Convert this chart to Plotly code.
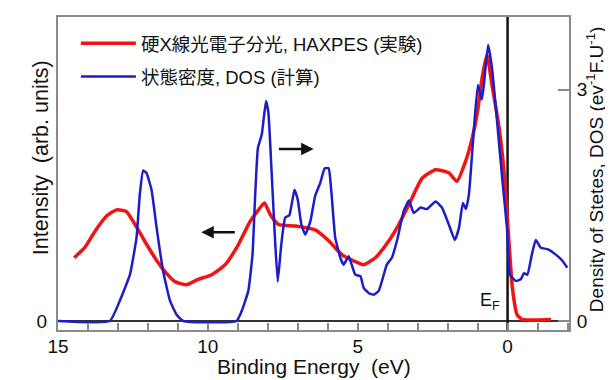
import plotly.graph_objects as go

# ---- data ----
haxpes_energy = [14.46, 14.11, 13.77, 13.38, 13.05, 12.72, 12.43, 12.1, 11.77, 11.43,
                 11.1, 10.71, 10.32, 9.87, 9.42, 8.98, 8.59, 8.31, 8.11, 7.92,
                 7.64, 7.08, 6.42, 5.97, 5.53, 5.08, 4.8, 4.41, 3.96, 3.63,
                 3.29, 2.85, 2.4, 1.96, 1.69, 1.4, 1.18, 1.0, 0.85, 0.69,
                 0.52, 0.28, 0.12, -0.03, -0.16, -0.32, -0.49, -1.45]
haxpes_intensity = [0.82, 0.95, 1.16, 1.36, 1.44, 1.42, 1.25, 1.03, 0.82, 0.64,
                    0.51, 0.47, 0.54, 0.60, 0.73, 0.99, 1.29, 1.44, 1.53, 1.38,
                    1.25, 1.23, 1.18, 1.04, 0.86, 0.77, 0.73, 0.82, 1.04, 1.25,
                    1.51, 1.85, 1.96, 1.92, 1.81, 2.07, 2.37, 2.72, 3.15, 3.45,
                    3.06, 2.5, 1.94, 1.12, 0.43, 0.08, 0.02, 0.02]

dos_energy = [15.0, 13.27, 12.94, 12.6, 12.38, 12.27, 12.16, 12.05, 11.88, 11.71,
              11.49, 11.26, 11.04, 10.82, 9.04, 8.85, 8.65, 8.51, 8.42, 8.33,
              8.2, 8.06, 7.98, 7.89, 7.78, 7.67, 7.55, 7.42, 7.28, 7.11,
              7.0, 6.88, 6.75, 6.58, 6.42, 6.25, 6.1, 5.97, 5.88, 5.75,
              5.58, 5.47, 5.3, 5.2, 5.08, 4.91, 4.8, 4.63, 4.46, 4.3,
              4.13, 4.03, 3.86, 3.69, 3.46, 3.29, 3.13, 2.9, 2.69, 2.4,
              2.19, 1.96, 1.76, 1.62, 1.49, 1.39, 1.29, 1.12, 0.99, 0.86,
              0.79, 0.65, 0.52, 0.35, 0.18, 0.02, -0.08, -0.27, -0.44, -0.55,
              -0.66, -0.81, -0.94, -1.11, -1.33, -1.61, -1.83, -1.99]
dos_value = [0, 0, 0.26, 0.6, 1.08, 1.64, 1.95, 1.92, 1.70, 1.21,
             0.64, 0.26, 0.08, 0, 0, 0.15, 0.39, 0.86, 1.64, 2.24,
             2.42, 2.85, 2.7, 2.07, 1.21, 0.51, 0.99, 1.34, 1.37, 1.70,
             1.57, 1.25, 1.12, 1.29, 1.62, 1.79, 1.98, 1.98, 1.68, 1.08,
             0.82, 0.73, 0.84, 0.73, 0.6, 0.58, 0.43, 0.36, 0.34, 0.39,
             0.6, 0.73, 0.82, 1.04, 1.43, 1.56, 1.40, 1.47, 1.45, 1.55,
             1.47, 1.25, 1.05, 1.21, 1.53, 1.45, 1.64, 2.5, 3.06, 2.87,
             3.06, 3.58, 3.28, 2.59, 1.85, 1.21, 0.6, 0.52, 0.54, 0.62,
             0.6, 0.86, 1.05, 0.95, 0.93, 0.86, 0.78, 0.69]

x_tick_values = list(range(15, -3, -1))
x_labelled = [15, 10, 5, 0]
left_tick_values = [0]
right_tick_values = [0, 3]

legend_haxpes = "硬X線光電子分光, HAXPES (実験)"
legend_dos = "状態密度, DOS (計算)"

# ---- figure ----
FONT = "Liberation Sans, Arial, Noto Sans CJK JP, sans-serif"
FRAME = "#8a8a8a"
yrange = [-0.117, 3.94]

fig = go.Figure()
fig.add_trace(go.Scatter(
    x=haxpes_energy, y=haxpes_intensity, mode="lines", name=legend_haxpes,
    line=dict(color="#f01414", width=3.5, shape="spline", smoothing=0.5),
    legendgroup="a", yaxis="y"))
fig.add_trace(go.Scatter(
    x=dos_energy, y=dos_value, mode="lines", name=legend_dos,
    line=dict(color="#1c1cc8", width=2.5, shape="spline", smoothing=0.4),
    legendgroup="b", yaxis="y2"))

xt_text = [str(v) if v in x_labelled else "" for v in x_tick_values]

fig.update_layout(
    width=613, height=380,
    margin=dict(l=50, r=52, t=9, b=58, autoexpand=False),
    paper_bgcolor="white", plot_bgcolor="white",
    font=dict(family=FONT, color="#111", size=18),
    showlegend=True,
    legend=dict(x=0.035, y=0.975, xanchor="left", yanchor="top",
                bgcolor="rgba(0,0,0,0)", borderwidth=0,
                font=dict(size=18.5, family=FONT),
                itemwidth=55, tracegroupgap=6, traceorder="grouped"),
    xaxis=dict(range=[15, -2.05], tickvals=x_tick_values, ticktext=xt_text,
               ticks="inside", ticklen=7, tickcolor=FRAME, tickwidth=1.5,
               showline=True, linecolor=FRAME, linewidth=2, mirror=True,
               showgrid=False, zeroline=False, automargin=False,
               tickfont=dict(size=19), ticklabelstandoff=-2),
    yaxis=dict(range=yrange, tickvals=left_tick_values, ticktext=["0"],
               ticks="", showline=True, linecolor=FRAME, linewidth=2,
               showgrid=False, zeroline=False, automargin=False,
               tickfont=dict(size=19), ticklabelstandoff=5),
    yaxis2=dict(range=yrange, overlaying="y", side="right",
                tickvals=right_tick_values, ticktext=["0", "3"],
                ticks="inside", ticklen=11, tickcolor=FRAME, tickwidth=1.5,
                showline=True, linecolor=FRAME, linewidth=2,
                showgrid=False, zeroline=False, automargin=False,
                tickfont=dict(size=19), ticklabelstandoff=2),
)

# zero baseline and Fermi level line
fig.add_shape(type="line", xref="paper", yref="y", x0=0, x1=1, y0=0, y1=0,
              line=dict(color="#333333", width=2), layer="below")
fig.add_shape(type="line", xref="x", yref="paper", x0=0, x1=0, y0=0, y1=1,
              line=dict(color="#111111", width=2.5), layer="below")

# axis titles
fig.add_annotation(text="Binding Energy  (eV)", xref="paper", yref="paper",
                   x=0.5, y=-0.118, showarrow=False, yanchor="middle",
                   font=dict(size=21))
fig.add_annotation(text="Intensity  (arb. units)", xref="paper", yref="paper",
                   x=-0.06, y=0.55, showarrow=False, textangle=-90,
                   font=dict(size=21.5))
fig.add_annotation(text="Density of Stetes, DOS (ev<sup>-1</sup>F.U<sup>-1</sup>)",
                   xref="paper", yref="paper", x=1.077, y=0.515,
                   showarrow=False, textangle=-90, font=dict(size=19))

# E_F label
fig.add_annotation(text="E<sub>F</sub>", xref="x", yref="y", x=0.6, y=0.25,
                   showarrow=False, font=dict(size=18))

# arrows indicating the axis of each curve
fig.add_annotation(x=10.22, y=1.15, ax=9.05, ay=1.15, xref="x", yref="y",
                   axref="x", ayref="y", text="", showarrow=True,
                   arrowhead=2, arrowsize=1, arrowwidth=2.5, arrowcolor="#111")
fig.add_annotation(x=6.47, y=2.23, ax=7.68, ay=2.23, xref="x", yref="y",
                   axref="x", ayref="y", text="", showarrow=True,
                   arrowhead=2, arrowsize=1, arrowwidth=2.5, arrowcolor="#111")

fig.write_html("out.html")
